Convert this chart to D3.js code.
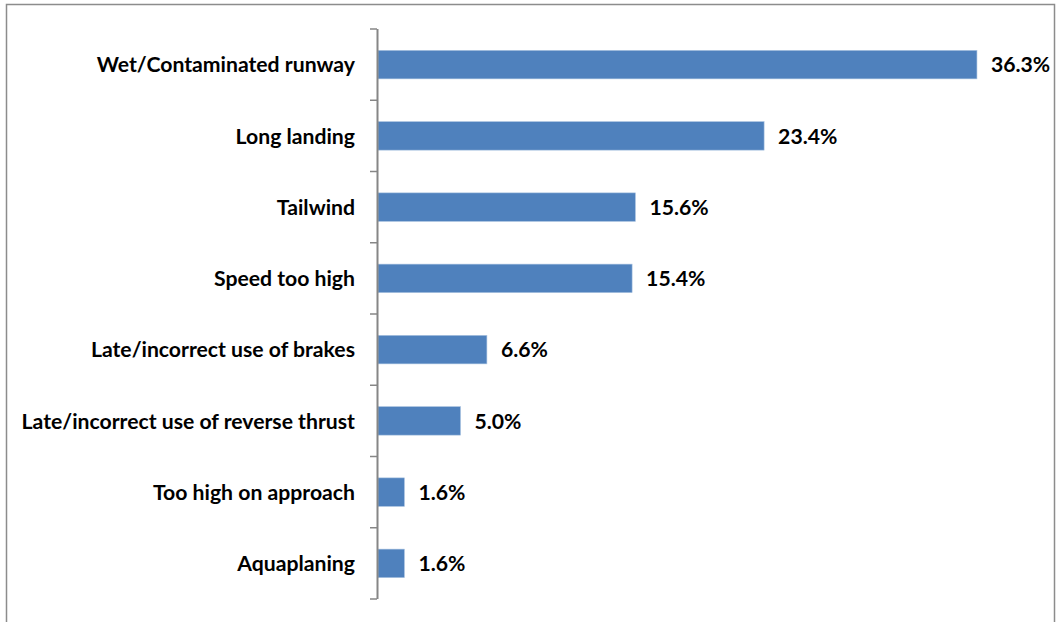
<!DOCTYPE html>
<html>
<head>
<meta charset="utf-8">
<script src="https://cdn.jsdelivr.net/npm/d3@7"></script>
<style>
  html, body { margin: 0; padding: 0; background: #fff; }
  svg { display: block; }
  text { font-family: Lato, "Open Sans", sans-serif; font-weight: bold; fill: #000; }
</style>
</head>
<body>
<script>
// Runway excursion contributing factors (share of events, %)
const categories = [
  "Wet/Contaminated runway",
  "Long landing",
  "Tailwind",
  "Speed too high",
  "Late/incorrect use of brakes",
  "Late/incorrect use of reverse thrust",
  "Too high on approach",
  "Aquaplaning"
];
const values = [36.3, 23.4, 15.6, 15.4, 6.6, 5.0, 1.6, 1.6];
const valueLabels = ["36.3%", "23.4%", "15.6%", "15.4%", "6.6%", "5.0%", "1.6%", "1.6%"];

const W = 1056, H = 622;
const svg = d3.select("body").append("svg").attr("width", W).attr("height", H);

// outer chart frame
svg.append("rect")
  .attr("x", 6.5).attr("y", 4.5)
  .attr("width", 1048).attr("height", 640)
  .attr("fill", "none").attr("stroke", "#8c8c8c").attr("stroke-width", 1.5);

const x = d3.scaleLinear().domain([0, 40]).range([378, 1038]);
const y = d3.scaleBand().domain(categories).range([29, 599])
  .paddingInner(0.6).paddingOuter(0.3);

const data = categories.map((c, i) => ({ c, v: values[i], label: valueLabels[i] }));

// bars
svg.append("g").selectAll("rect").data(data).join("rect")
  .attr("x", x(0))
  .attr("y", d => y(d.c))
  .attr("width", d => x(d.v) - x(0))
  .attr("height", y.bandwidth())
  .attr("fill", "#4f81bd")
  .attr("stroke", "#a9c2e0").attr("stroke-width", 0.6);

// category axis with ticks at band boundaries
const axisG = svg.append("g");
axisG.append("line")
  .attr("x1", 377.5).attr("x2", 377.5)
  .attr("y1", y.range()[0]).attr("y2", y.range()[1])
  .attr("stroke", "#868686").attr("stroke-width", 2);
const step = y.step();
const bounds = d3.range(categories.length + 1).map(i => y.range()[0] + i * step);
axisG.selectAll("line.tick").data(bounds).join("line")
  .attr("class", "tick")
  .attr("x1", 370).attr("x2", 377)
  .attr("y1", d => d).attr("y2", d => d)
  .attr("stroke", "#868686").attr("stroke-width", 1.5);

// category labels
svg.append("g").selectAll("text").data(data).join("text")
  .attr("x", 355)
  .attr("y", d => y(d.c) + y.bandwidth() / 2)
  .attr("dy", "0.36em")
  .attr("text-anchor", "end")
  .attr("font-size", 21.2)
  .text(d => d.c);

// value labels
svg.append("g").selectAll("text").data(data).join("text")
  .attr("x", d => x(d.v) + 14)
  .attr("y", d => y(d.c) + y.bandwidth() / 2)
  .attr("dy", "0.36em")
  .attr("font-size", 21.2)
  .text(d => d.label);
</script>
</body>
</html>
